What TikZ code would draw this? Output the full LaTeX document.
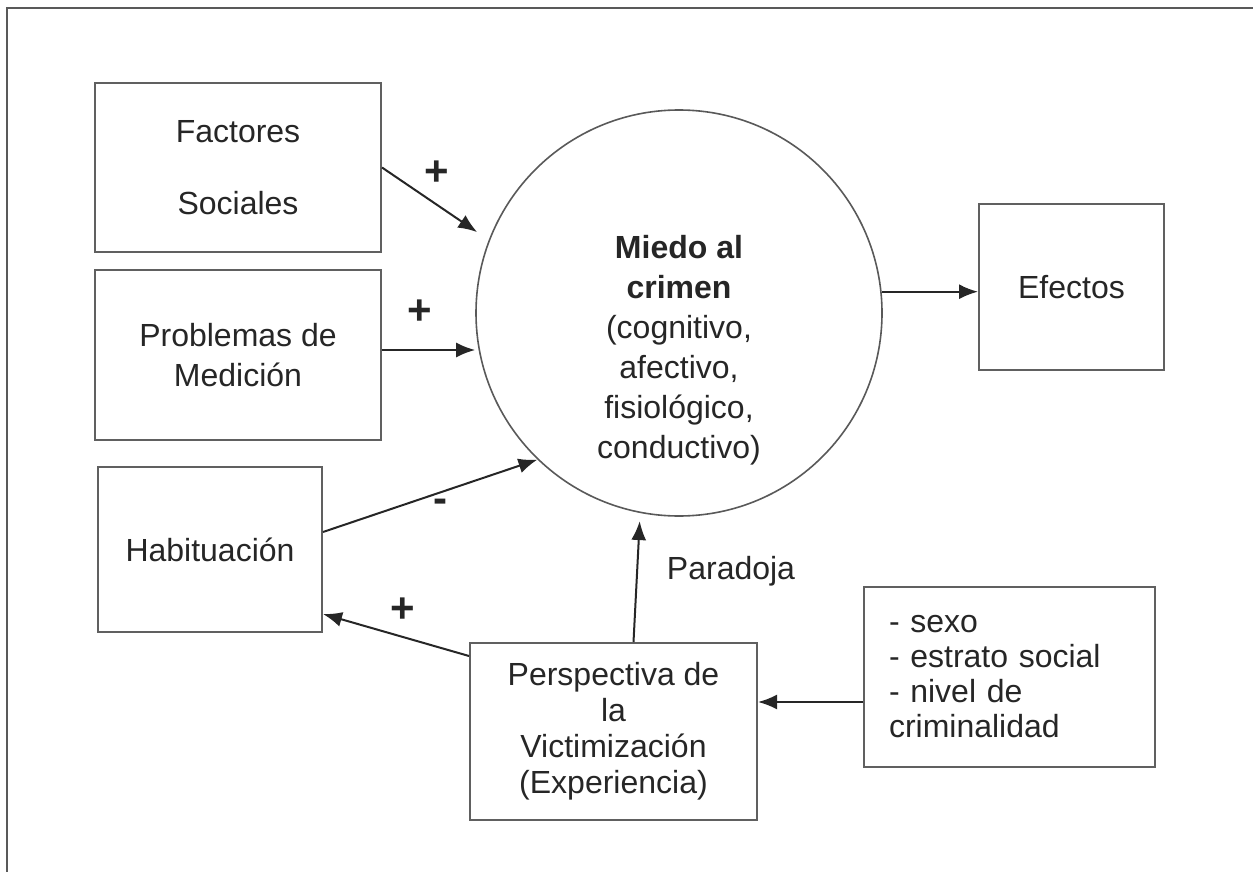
\documentclass[tikz,border=0pt]{standalone}
\usepackage{fontspec}
\setmainfont{Liberation Sans}
\usetikzlibrary{arrows.meta, positioning}

\begin{document}
\begin{tikzpicture}[x=0.5pt, y=-0.5pt,
    caja/.style={rectangle, draw=gray!75!black, line width=1pt, align=center, text=black!85,
      font=\fontsize{16}{20}\selectfont},
    flecha/.style={-{Latex[length=9.5pt,width=7.5pt]}, line width=1pt, black!85},
    signo/.style={text=black!85, font=\fontsize{21}{20}\selectfont\bfseries}]
    \useasboundingbox (0,0) rectangle (1253,872);
    \draw [gray!70!black, line width=1pt] (7,872) -- (7,8) -- (1253,8);

    \node [circle, draw=gray!70!black, line width=0.8pt, minimum size=203pt] (miedo) at (679,313) {};
    \node [align=center, text=black!85, font=\fontsize{16}{20}\selectfont] (miedotxt) at (679,350)
      {\textbf{Miedo al}\\\textbf{crimen}\\(cognitivo,\\afectivo,\\fisiológico,\\conductivo)};

    \node [caja, minimum width=143pt, minimum height=84.5pt] (factores) at (238,167.5) {Factores\\[16pt]Sociales};
    \node [caja, minimum width=143pt, minimum height=85pt] (problemas) at (238,355) {Problemas de\\Medición};
    \node [caja, minimum width=112pt, minimum height=82.5pt] (habituacion) at (210,549.5) {Habituación};
    \node [caja, minimum width=92.5pt, minimum height=83pt] (efectos) at (1071.5,287) {Efectos};
    \node [caja, minimum width=143.5pt, minimum height=88.5pt, font=\fontsize{16}{18}\selectfont] (perspectiva) at (613.5,731.5)
      {Perspectiva de\\la\\Victimización\\(Experiencia)};
    \node [caja, align=left, text width=120.5pt, inner xsep=12.5pt, minimum height=90pt, font=\fontsize{16}{17.5}\selectfont] (factoresvict) at (1009.5,677)
      {- sexo\\- estrato social\\- nivel de\\criminalidad};

    \node [text=black!85, font=\fontsize{16}{20}\selectfont] (paradoja) at (731,571) {Paradoja};
    \node [signo] (mas1) at (437,173) {+};
    \node [signo] (mas2) at (420,312) {+};
    \node [signo] (menos) at (440,506) {-};
    \node [signo] (mas3) at (403,610) {+};

    \coordinate (p) at ([yshift=2.5pt]problemas.east);
    \coordinate (v) at ([yshift=-12.5pt]factoresvict.west);

    \draw [flecha, shorten >=7pt] (factores.east) -- (miedo.159);
    \draw [flecha] (p) -- (p -| miedo.west);
    \draw [flecha] ([yshift=8.75pt]habituacion.east) -- (miedo.226);
    \draw [flecha] ([yshift=-7pt]perspectiva.north west) -- ([yshift=9.5pt]habituacion.south east);
    \draw [flecha, shorten >=4pt] ([xshift=10pt]perspectiva.north) -- (miedo.259);
    \draw [flecha] (miedo.6) -- (miedo.6 -| efectos.west);
    \draw [flecha] (v) -- (v -| perspectiva.east);
\end{tikzpicture}
\end{document}
